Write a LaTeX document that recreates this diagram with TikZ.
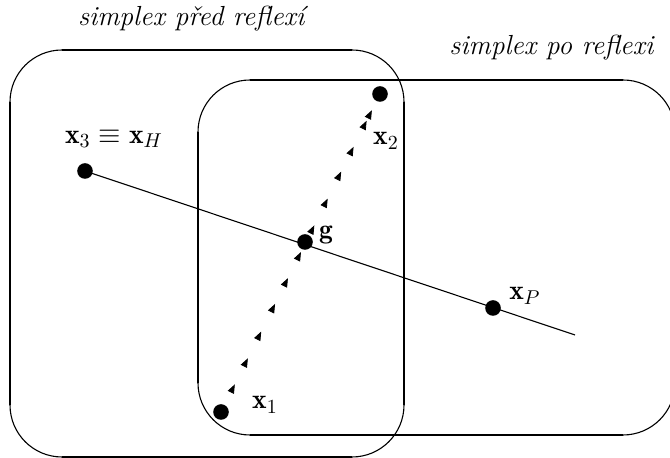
\documentclass[tikz,border=0pt]{standalone}
\usepackage{fontspec}
\usetikzlibrary{arrows.meta,decorations.markings}
\tikzset{
  dot/.style={circle,fill=black,inner sep=0pt,minimum size=7.8pt},
  lbl/.style={inner sep=0pt,font=\fontsize{13.8}{16}\selectfont},
  edge/.style={line width=1.3pt},
  corner/.style={line width=0.55pt},
  axisline/.style={line width=0.55pt},
  tri/.style={decoration={markings,
    mark=at position 0.087 with {\arrow{Triangle[length=4.5pt,width=3.4pt]}},
    mark=at position 0.169 with {\arrow{Triangle[length=4.5pt,width=3.4pt]}},
    mark=at position 0.253 with {\arrow{Triangle[length=4.5pt,width=3.4pt]}},
    mark=at position 0.340 with {\arrow{Triangle[length=4.5pt,width=3.4pt]}},
    mark=at position 0.421 with {\arrow{Triangle[length=4.5pt,width=3.4pt]}},
    mark=at position 0.503 with {\arrow{Triangle[length=4.5pt,width=3.4pt]}},
    mark=at position 0.587 with {\arrow{Triangle[length=4.5pt,width=3.4pt]}},
    mark=at position 0.671 with {\arrow{Triangle[length=4.5pt,width=3.4pt]}},
    mark=at position 0.756 with {\arrow{Triangle[length=4.5pt,width=3.4pt]}},
    mark=at position 0.834 with {\arrow{Triangle[length=4.5pt,width=3.4pt]}},
    mark=at position 0.916 with {\arrow{Triangle[length=4.5pt,width=3.4pt]}},
    mark=at position 0.949 with {\arrow{Triangle[length=4.5pt,width=3.4pt]}}},
    decorate}
}
\begin{document}
\begin{tikzpicture}[x=0.5pt,y=-0.5pt]
\useasboundingbox (0,0) rectangle (670,458);
\begin{scope}
\clip (0,0) rectangle (670,458);
% left rounded rectangle (before reflection)
\draw[corner,rounded corners=26pt] (10,50) rectangle (404,457);
\draw[edge] (10,102) -- (10,405);
\draw[edge] (62,457) -- (352,457);
\draw[edge] (404,405) -- (404,102);
\draw[edge] (352,50) -- (62,50);
% right rounded rectangle (after reflection)
\draw[corner,rounded corners=26pt] (198,80) rectangle (675,435);
\draw[edge] (198,132) -- (198,383);
\draw[edge] (250,435) -- (623,435);
\draw[edge] (623,80) -- (250,80);
\end{scope}
% points
\node[dot] (x3) at (85,171) {};
\node[dot] (x2) at (380,94) {};
\node[dot] (x1) at (221,412) {};
\node[dot] (g) at (305,242) {};
\node[dot] (xP) at (493,308) {};
\coordinate (lend) at (575,335);
% reflection line
\draw[axisline] (x3.center) -- (lend);
% arrows from x1 towards x2
\path[tri] (x1.center) -- (x2.center);
% labels
\node[lbl] (t1) at (193,19) {\textit{simplex před reflexí}};
\node[lbl] (t2) at (552,48) {\textit{simplex po reflexi}};
\node[lbl] (lx3) at (114,139) {$\mathbf{x}_3\equiv\mathbf{x}_H$};
\node[lbl] (lx2) at (386,141) {$\mathbf{x}_2$};
\node[lbl] (lg) at (326,235) {$\mathbf{g}$};
\node[lbl] (lxP) at (525,296) {$\mathbf{x}_P$};
\node[lbl] (lx1) at (265,405) {$\mathbf{x}_1$};
\end{tikzpicture}
\end{document}
